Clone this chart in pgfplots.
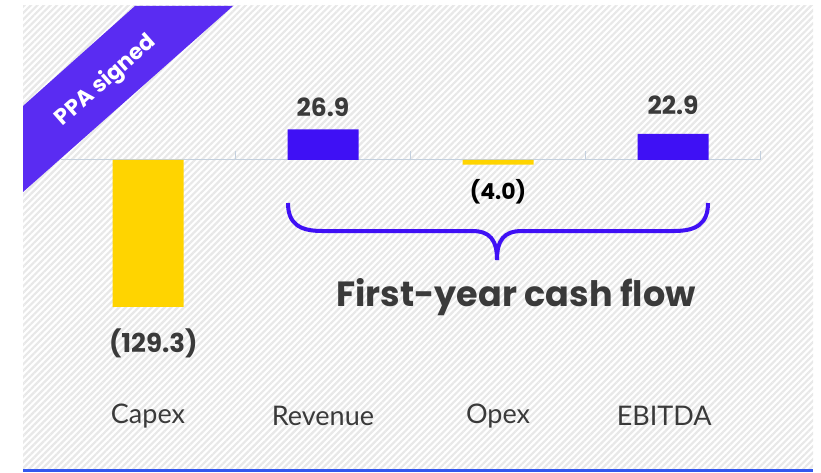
\documentclass[border=0pt]{standalone}
\usepackage{fontspec}
\setmainfont{Poppins}
\newfontfamily\labelfont{Lato}
\usepackage{pgfplots}
\pgfplotsset{compat=1.18}
\usetikzlibrary{patterns.meta}
\definecolor{capex}{HTML}{FFD400}
\definecolor{rev}{HTML}{3F10F5}
\definecolor{ribbon}{HTML}{5A2CF2}
\definecolor{ink}{HTML}{3A3A3A}
\definecolor{zero}{HTML}{C4D0DE}
\definecolor{hatch}{HTML}{E8E8E8}
\definecolor{bottomline}{HTML}{3458EE}

\begin{document}
\begin{tikzpicture}[x=1pt,y=1pt]
\useasboundingbox (0,0) rectangle (821,472);
% background and decorations, drawn in pixel coordinates (y downwards)
\begin{scope}[shift={(0,472)},yscale=-1]
\fill[white] (23,6) rectangle (813,469);
\fill[pattern={Lines[angle=45,distance=4.6pt,line width=2.2pt]},pattern color=hatch] (23,6) rectangle (813,469);
\fill[bottomline] (23,469) rectangle (813,472);
\fill[ribbon] (23,106) -- (135,6) -- (233,6) -- (23,192) -- cycle;
\node[rotate=41.5,text=white,font=\fontsize{22}{22}\selectfont\bfseries] at (106,81) {PPA signed};
\draw[rev,line width=4pt] (288,203) .. controls (288,224) and (300,231) .. (322,231) -- (472,231) .. controls (490,231) and (497,240) .. (497,260);
\draw[rev,line width=4pt] (708,203) .. controls (708,224) and (696,231) .. (674,231) -- (522,231) .. controls (504,231) and (497,240) .. (497,260);
\node[text=ink,font=\fontsize{35}{35}\selectfont\bfseries] at (516,297) {First-year cash flow};
\end{scope}
\begin{axis}[at={(148pt,312pt)},anchor=origin,scale only axis,width=700pt,height=393pt,
  xmin=-0.5,xmax=3.5,ymin=-211.1,ymax=134.6,axis lines=none,clip=false,
  ybar,bar width=71pt,bar shift=0pt]
\draw[zero,line width=1pt] (axis cs:-0.5,0) -- (axis cs:3.5,0);
\pgfplotsinvokeforeach{0.5,1.5,2.5,3.5}{\draw[zero,line width=1pt] (axis cs:#1,0) -- (axis cs:#1,8);}
\addplot[fill=capex,draw=none] coordinates {(0,-129.3) (2,-4.0)};
\addplot[fill=rev,draw=none] coordinates {(1,26.9) (3,22.9)};
\node[text=ink,font=\fontsize{25}{25}\selectfont\bfseries] at (axis cs:1,46.6) {26.9};
\node[text=ink,font=\fontsize{25}{25}\selectfont\bfseries] at (axis cs:3,48.4) {22.9};
\node[text=black,font=\fontsize{22}{22}\selectfont\bfseries] at (axis cs:2,-28.1) {(4.0)};
\node[text=ink,font=\fontsize{26}{26}\selectfont\bfseries] at (axis cs:0.03,-161) {(129.3)};
\node[text=ink,font=\labelfont\fontsize{27}{27}\selectfont] at (axis cs:0,-225) {Capex};
\node[text=ink,font=\labelfont\fontsize{27}{27}\selectfont] at (axis cs:1,-225) {Revenue};
\node[text=ink,font=\labelfont\fontsize{27}{27}\selectfont] at (axis cs:2,-225) {Opex};
\node[text=ink,font=\labelfont\fontsize{27}{27}\selectfont] at (axis cs:2.95,-225) {EBITDA};
\end{axis}
\end{tikzpicture}
\end{document}
